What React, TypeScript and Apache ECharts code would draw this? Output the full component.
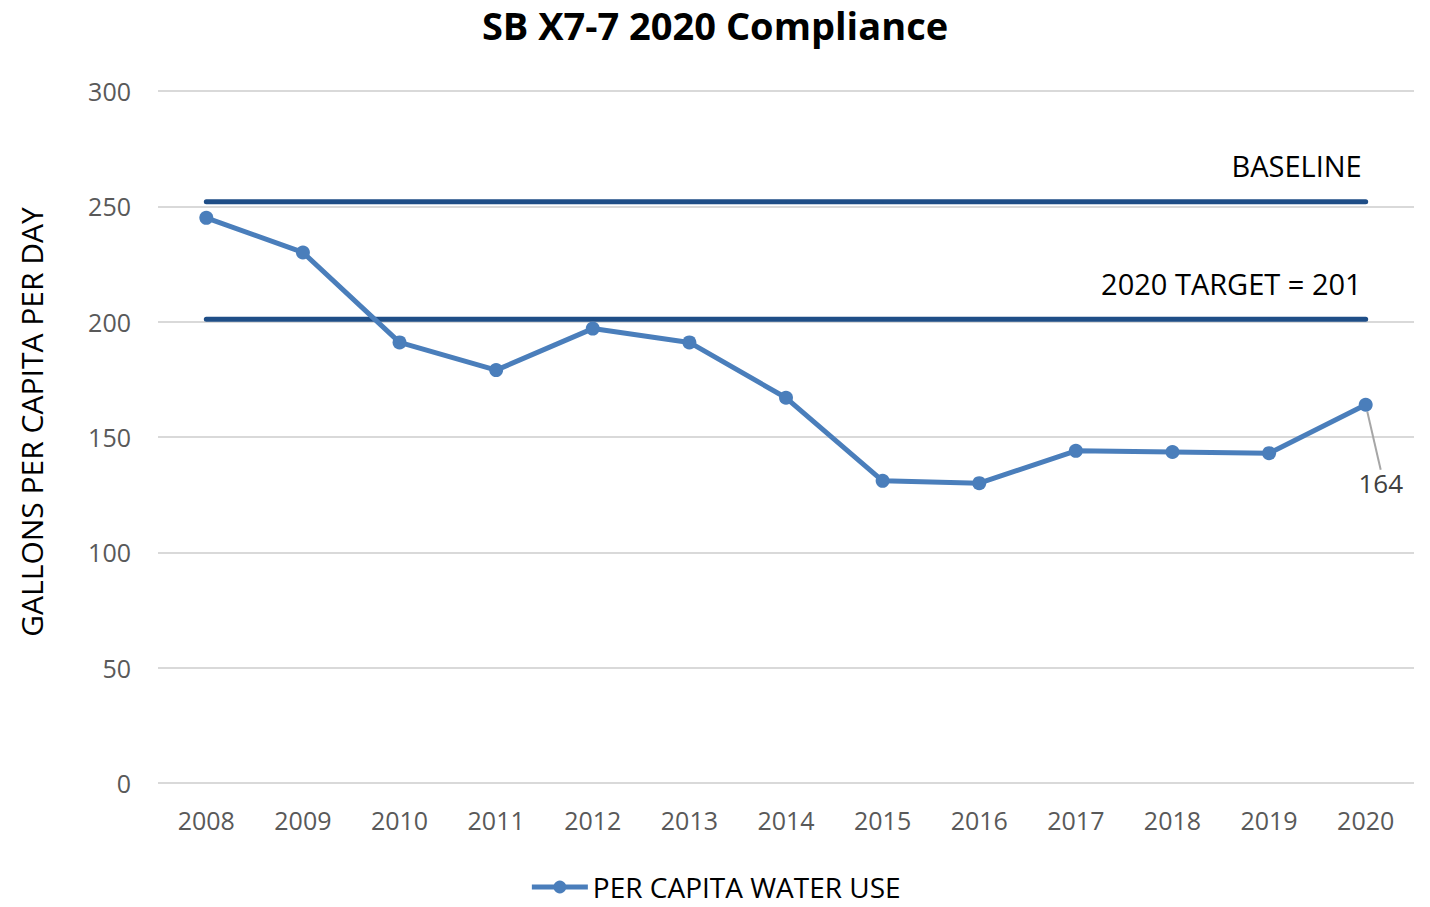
import React, { useEffect, useRef } from "react";
import * as echarts from "echarts";

const years = ["2008","2009","2010","2011","2012","2013","2014","2015","2016","2017","2018","2019","2020"];
const perCapita = [245, 230, 191, 179, 197, 191, 167, 131, 130, 144, 143.5, 143, 164];
const baselineValue = 252;
const targetValue = 201;
const baseline = years.map(() => baselineValue);
const target = years.map(() => targetValue);

const FONT = "'Open Sans', 'Noto Sans', sans-serif";
const NAVY = "#1f4e87";
const BLUE = "#4a7ebb";

export default function App() {
  const ref = useRef<HTMLDivElement>(null);
  useEffect(() => {
    if (!ref.current) return;
    const chart = echarts.init(ref.current, null, { renderer: "svg" });
    const last = years.length - 1;
    const refLabel = (text: string) => ({
      show: true,
      position: "top",
      align: "right",
      offset: [-4, -16],
      formatter: text,
      color: "#000",
      fontSize: 29,
      fontFamily: FONT,
    });
    chart.setOption({
      animation: false,
      textStyle: { fontFamily: FONT },
      title: {
        text: "SB X7-7 2020 Compliance",
        left: "center",
        top: 2,
        padding: 0,
        textStyle: { fontSize: 38, fontWeight: "bold", color: "#000", fontFamily: FONT, lineHeight: 46 },
      },
      grid: { left: 158, right: 16, top: 91, bottom: 124 },
      legend: {
        bottom: 3,
        left: "center",
        padding: 0,
        data: ["PER CAPITA WATER USE"],
        itemWidth: 56,
        itemHeight: 16,
        itemGap: 14,
        lineStyle: { width: 5 },
        textStyle: { fontSize: 28, color: "#000", fontFamily: FONT, lineHeight: 34 },
      },
      xAxis: {
        type: "category",
        data: years,
        boundaryGap: true,
        axisLine: { show: false },
        axisTick: { show: false },
        axisLabel: { fontSize: 25, color: "#595959", margin: 24, fontFamily: FONT },
      },
      yAxis: {
        type: "value",
        min: 0,
        max: 300,
        interval: 50,
        name: "GALLONS PER CAPITA PER DAY",
        nameLocation: "middle",
        nameGap: 112,
        nameRotate: 90,
        nameTextStyle: { fontSize: 30, color: "#000", fontFamily: FONT, padding: [0, 0, 0, 30] },
        axisLine: { show: false },
        axisTick: { show: false },
        axisLabel: { fontSize: 25, color: "#595959", margin: 27, fontFamily: FONT },
        splitLine: { lineStyle: { color: "#d9d9d9", width: 2 } },
      },
      series: [
        {
          name: "BASELINE",
          type: "line",
          data: baseline.map((v, i) => (i === last ? { value: v, label: refLabel("BASELINE") } : v)),
          symbol: "circle",
          symbolSize: 1,
          showSymbol: true,
          lineStyle: { color: NAVY, width: 5, cap: "round" },
          itemStyle: { color: NAVY },
          z: 3,
        },
        {
          name: "2020 TARGET",
          type: "line",
          data: target.map((v, i) => (i === last ? { value: v, label: refLabel("2020 TARGET = " + targetValue) } : v)),
          symbol: "circle",
          symbolSize: 1,
          showSymbol: true,
          lineStyle: { color: NAVY, width: 5, cap: "round" },
          itemStyle: { color: NAVY },
          z: 3,
        },
        {
          name: "PER CAPITA WATER USE",
          type: "line",
          data: perCapita.map((v, i) =>
            i === last
              ? {
                  value: v,
                  label: {
                    show: true,
                    position: "bottom",
                    formatter: String(Math.round(v)),
                    fontSize: 26,
                    color: "#404040",
                    fontFamily: FONT,
                  },
                  labelLine: { show: true, lineStyle: { color: "#a6a6a6", width: 2 } },
                }
              : v
          ),
          symbol: "circle",
          symbolSize: 14,
          lineStyle: { color: BLUE, width: 5 },
          itemStyle: { color: BLUE },
          labelLayout: (params: any) => (params.dataIndex === last ? { dx: 15, dy: 53 } : {}),
          labelLine: { show: true, lineStyle: { color: "#a6a6a6", width: 2 } },
          z: 4,
        },
      ],
    });
    return () => chart.dispose();
  }, []);
  return <div ref={ref} style={{ width: 1430, height: 907, position: "absolute", left: 0, top: 0, background: "#fff" }} />;
}
